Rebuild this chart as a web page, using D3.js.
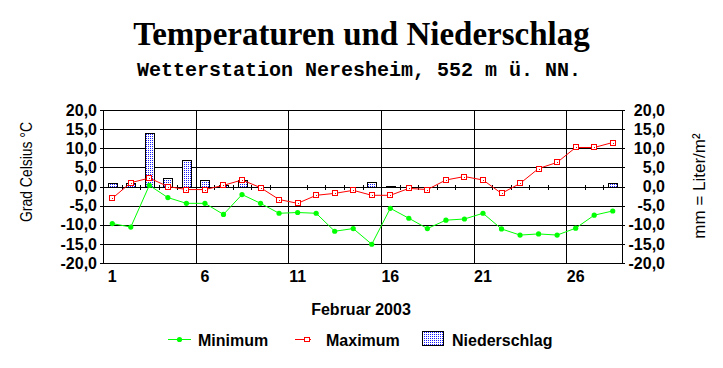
<!DOCTYPE html>
<html>
<head>
<meta charset="utf-8">
<script src="https://cdn.jsdelivr.net/npm/d3@7"></script>
<style>
  body { margin: 0; background: #fff; }
  svg { display: block; }
  text { font-family: "Liberation Sans", Arial, sans-serif; }
  .tick text, .lbl { font-size: 16px; font-weight: bold; fill: #000; }
</style>
</head>
<body>
<script>
const width = 723;
const height = 368;

// Februar 2003, Tageswerte
const days = d3.range(1, 29);
const minTemp = [-9.7, -10.6, 0.3, -2.9, -4.4, -4.4, -7.3, -2.1, -4.4, -7.0,
  -6.8, -7.0, -11.7, -11.0, -15.1, -5.7, -8.3, -11.0, -8.8, -8.5,
  -7.0, -11.1, -12.7, -12.4, -12.7, -10.9, -7.5, -6.4];
const maxTemp = [-3.1, 1.0, 2.2, 0.0, -0.8, -0.8, 0.3, 1.7, -0.3, -3.4,
  -4.4, -2.3, -1.8, -1.0, -2.3, -2.3, -0.5, -0.8, 1.7, 2.6,
  1.7, -1.8, 0.8, 4.7, 6.3, 10.2, 10.2, 11.5];
const precip = [1.0, 1.0, 13.9, 2.1, 6.9, 1.8, 0.5, 1.7, 0, 0,
  0, 0, 0, 0, 1.1, 0.2, 0, 0, 0, 0,
  0, 0, 0, 0, 0, 0, 0, 0.8];
const yTicks = [-20, -15, -10, -5, 0, 5, 10, 15, 20];
const xLabels = [1, 6, 11, 16, 21, 26];

const plot = { left: 103, right: 622, top: 110, bottom: 263 };

const fmt = d3.formatLocale({ decimal: ",", thousands: ".", grouping: [3], currency: ["", ""], minus: "-" }).format(".1f");

const x = d3.scaleBand()
  .domain(days)
  .range([plot.left, plot.right]);

const y = d3.scaleLinear()
  .domain([-20, 20])
  .range([plot.bottom, plot.top]);

const cx = d => x(d) + x.bandwidth() / 2;

const svg = d3.select("body")
  .append("svg")
  .attr("width", width)
  .attr("height", height);

// dotted fill for the bars
const defs = svg.append("defs");
const pat = defs.append("pattern")
  .attr("id", "dots")
  .attr("patternUnits", "userSpaceOnUse")
  .attr("width", 2)
  .attr("height", 2);
pat.append("rect").attr("width", 2).attr("height", 2).attr("fill", "#fff");
pat.append("rect").attr("width", 1).attr("height", 1).attr("fill", "#1a1aff");

// titles
svg.append("text")
  .attr("x", 361.5)
  .attr("y", 45)
  .attr("text-anchor", "middle")
  .style("font-family", "'Liberation Serif', 'Times New Roman', serif")
  .style("font-weight", "bold")
  .style("font-size", "33px")
  .text("Temperaturen und Niederschlag");

svg.append("text")
  .attr("x", 359)
  .attr("y", 76)
  .attr("text-anchor", "middle")
  .style("font-family", "'Liberation Mono', 'Courier New', monospace")
  .style("font-weight", "bold")
  .style("font-size", "20px")
  .text("Wetterstation Neresheim, 552 m ü. NN.");

// grid
const grid = svg.append("g")
  .attr("stroke", "#000")
  .attr("shape-rendering", "crispEdges");

grid.selectAll("line.h")
  .data(yTicks)
  .enter().append("line")
  .attr("class", "h")
  .attr("x1", plot.left)
  .attr("x2", plot.right)
  .attr("y1", d => Math.round(y(d)) + 0.5)
  .attr("y2", d => Math.round(y(d)) + 0.5);

grid.selectAll("line.v")
  .data(xLabels)
  .enter().append("line")
  .attr("class", "v")
  .attr("x1", d => Math.round(x(d)) + 0.5)
  .attr("x2", d => Math.round(x(d)) + 0.5)
  .attr("y1", y(20))
  .attr("y2", y(-20));

// small ticks on the zero line
grid.selectAll("line.t")
  .data(days.slice(1))
  .enter().append("line")
  .attr("class", "t")
  .attr("x1", d => Math.round(x(d)) + 0.5)
  .attr("x2", d => Math.round(x(d)) + 0.5)
  .attr("y1", y(0) - 2)
  .attr("y2", y(0) + 3);

// axes
svg.append("g")
  .attr("transform", `translate(${plot.left},0)`)
  .attr("shape-rendering", "crispEdges")
  .call(d3.axisLeft(y).tickValues(yTicks).tickFormat(fmt).tickSize(3).tickSizeOuter(0).tickPadding(3));

svg.append("g")
  .attr("transform", `translate(${plot.right},0)`)
  .attr("shape-rendering", "crispEdges")
  .call(d3.axisRight(y).tickValues(yTicks).tickFormat(fmt).tickSize(3).tickSizeOuter(0))
  .call(g => g.selectAll("text").attr("text-anchor", "end").attr("x", 43));

svg.append("g")
  .attr("transform", `translate(0,${plot.bottom})`)
  .call(d3.axisBottom(x).tickValues(xLabels).tickSize(0).tickPadding(8))
  .call(g => g.select(".domain").remove());

svg.selectAll(".tick text")
  .style("font-family", "'Liberation Sans', Arial, sans-serif")
  .style("font-size", "16px")
  .style("font-weight", "bold");

// axis titles
svg.append("text")
  .attr("transform", "translate(32,172) rotate(-90)")
  .attr("text-anchor", "middle")
  .attr("textLength", 100)
  .attr("lengthAdjust", "spacingAndGlyphs")
  .style("font-size", "16.5px")
  .text("Grad Celsius °C");

svg.append("text")
  .attr("transform", "translate(705,186) rotate(-90)")
  .attr("text-anchor", "middle")
  .style("font-size", "17px")
  .text("mm = Liter/m²");

svg.append("text")
  .attr("x", 361)
  .attr("y", 315)
  .attr("text-anchor", "middle")
  .attr("class", "lbl")
  .text("Februar 2003");

// Niederschlag bars
svg.append("g")
  .selectAll("rect")
  .data(days.filter((d, i) => precip[i] > 0))
  .enter().append("rect")
  .attr("x", d => Math.round(cx(d) - 4.5) + 0.5)
  .attr("width", 9)
  .attr("y", d => Math.round(y(precip[d - 1])) + 0.5)
  .attr("height", d => Math.max(0, Math.round(y(0)) - Math.round(y(precip[d - 1]))))
  .attr("fill", "url(#dots)")
  .attr("stroke", "#000")
  .attr("shape-rendering", "crispEdges");

// temperature lines
const minLine = d3.line().x(d => cx(d)).y(d => y(minTemp[d - 1]));
const maxLine = d3.line().x(d => cx(d)).y(d => y(maxTemp[d - 1]));

svg.append("path")
  .attr("d", minLine(days))
  .attr("fill", "none")
  .attr("stroke", "#00ff00")
  .attr("stroke-width", 1);

svg.append("path")
  .attr("d", maxLine(days))
  .attr("fill", "none")
  .attr("stroke", "#ff0000")
  .attr("stroke-width", 1);

svg.append("g")
  .selectAll("circle")
  .data(days)
  .enter().append("circle")
  .attr("cx", d => cx(d))
  .attr("cy", d => y(minTemp[d - 1]))
  .attr("r", 2.6)
  .attr("fill", "#00ff00");

const sq = svg.append("g")
  .selectAll("g")
  .data(days)
  .enter().append("g")
  .attr("transform", d => `translate(${Math.round(cx(d))},${Math.round(y(maxTemp[d - 1]))})`);
sq.append("rect")
  .attr("x", -2.5).attr("y", -2.5)
  .attr("width", 5).attr("height", 5)
  .attr("fill", "#fff")
  .attr("stroke", "#ff0000")
  .attr("shape-rendering", "crispEdges");
sq.append("rect")
  .attr("x", 0).attr("y", 0)
  .attr("width", 1).attr("height", 1)
  .attr("fill", "#ff0000");

// legend
const leg = svg.append("g");
leg.append("line")
  .attr("x1", 168).attr("x2", 191).attr("y1", 339.5).attr("y2", 339.5)
  .attr("stroke", "#00ff00");
leg.append("circle")
  .attr("cx", 179.5).attr("cy", 339.5).attr("r", 2.6)
  .attr("fill", "#00ff00");
leg.append("text")
  .attr("x", 198).attr("y", 346)
  .attr("class", "lbl")
  .text("Minimum");

leg.append("line")
  .attr("x1", 295).attr("x2", 311).attr("y1", 339.5).attr("y2", 339.5)
  .attr("stroke", "#ff0000");
leg.append("rect")
  .attr("x", 304.5).attr("y", 337.5).attr("width", 5).attr("height", 4)
  .attr("fill", "#fff").attr("stroke", "#ff0000")
  .attr("shape-rendering", "crispEdges");
leg.append("text")
  .attr("x", 326).attr("y", 346)
  .attr("class", "lbl")
  .text("Maximum");

leg.append("rect")
  .attr("x", 422.5).attr("y", 331.5).attr("width", 21).attr("height", 14)
  .attr("fill", "url(#dots)").attr("stroke", "#000")
  .attr("shape-rendering", "crispEdges");
leg.append("text")
  .attr("x", 452).attr("y", 346)
  .attr("class", "lbl")
  .text("Niederschlag");
</script>
</body>
</html>
